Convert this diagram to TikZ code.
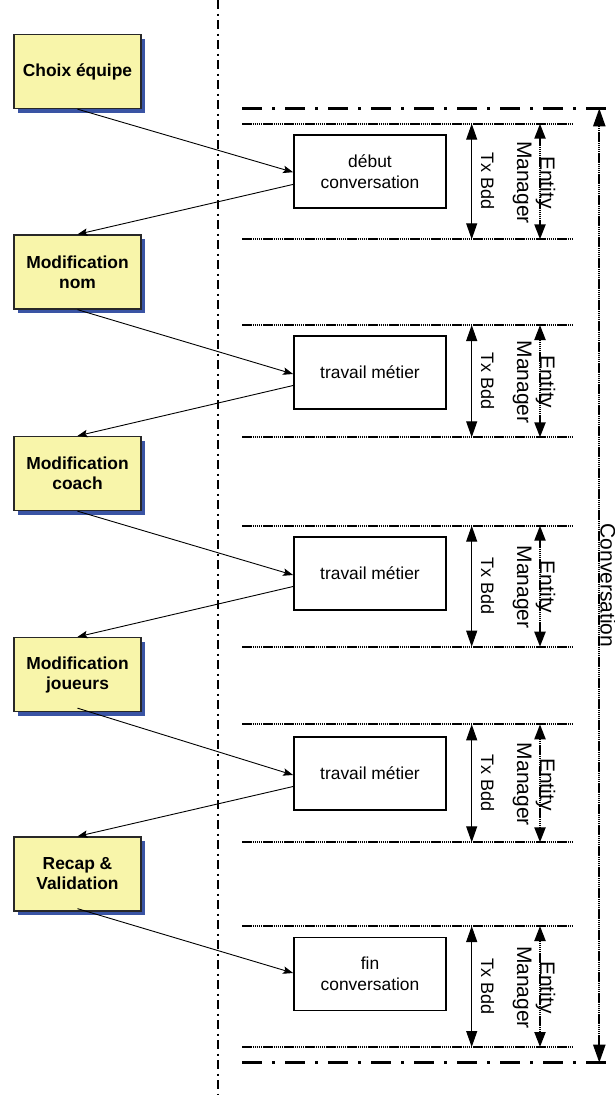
\documentclass[tikz,border=0pt]{standalone}
\usepackage{fontspec}
\setmainfont{Liberation Sans}
\usetikzlibrary{arrows.meta,shadows}
\definecolor{yfill}{RGB}{248,245,170}
\definecolor{sblue}{RGB}{58,84,164}
\definecolor{bdr}{RGB}{40,40,40}
\begin{document}
\begin{tikzpicture}[x=1pt,y=-1pt,
 ybox/.style={draw=bdr, line width=1.3pt, fill=yfill, minimum width=127pt, minimum height=74pt, align=center,
   font=\fontsize{17.4}{20}\selectfont\bfseries, general shadow={fill=sblue, shadow xshift=4.3pt, shadow yshift=-4pt}, inner sep=0pt},
 wbox/.style={draw=black, line width=1.8pt, fill=white, minimum width=152pt, minimum height=73pt, align=center,
   font=\fontsize{17.4}{21}\selectfont, inner sep=0pt},
 conn/.style={line width=0.9pt, -{Stealth[length=10pt,width=7.5pt,inset=2pt]}},
 dotline/.style={line width=2.2pt, dash pattern=on 1.5pt off 0.6pt},
 dashdotH/.style={line width=3pt, dash pattern=on 20pt off 10pt on 3pt off 10pt},
 dashdotV/.style={line width=2.5pt, dash pattern=on 9pt off 4.5pt on 2pt off 4.5pt},
 txarrow/.style={line width=1pt, {Triangle[length=16pt,width=11pt]}-{Triangle[length=16pt,width=11pt]}},
 emarrow/.style={line width=2.2pt, dash pattern=on 1.5pt off 0.6pt, {Triangle[length=15pt,width=11pt]}-{Triangle[length=15pt,width=11pt]}},
 convarrow/.style={line width=2.2pt, dash pattern=on 1.5pt off 0.6pt, {Triangle[length=18pt,width=12pt]}-{Triangle[length=18pt,width=12pt]}},
 txlabel/.style={rotate=-90, anchor=base, inner sep=0pt, font=\fontsize{18}{20}\selectfont},
 emlabel/.style={rotate=-90, align=center, inner sep=0pt, font=\fontsize{21}{23}\selectfont},
]
\useasboundingbox (0,0) rectangle (615,1095);

% vertical separator
\coordinate (vt) at (218,0);
\coordinate (vb) at (218,1095);
\draw[dashdotV] (vt) -- (vb);

% conversation limits
\coordinate (h1l) at (242,108.3);
\coordinate (h1r) at (615,108.3);
\coordinate (h2l) at (242,1062.7);
\coordinate (h2r) at (615,1062.7);
\draw[dashdotH] (h1l) -- (h1r);
\draw[dashdotH] (h2l) -- (h2r);

\coordinate (ct) at (599.3,108.3);
\coordinate (cb) at (599.3,1062.7);
\draw[convarrow] (ct) -- (cb);
\node[rotate=-90, anchor=base, inner sep=0pt, font=\fontsize{21}{23}\selectfont] (conv) at (600.5,585.5) {Conversation};

% transaction blocks
\foreach \i/\yt/\yb in {1/123.7/239.3, 2/325/437.3, 3/525.7/646.7, 4/724.3/842.3, 5/926/1047}{
  \coordinate (tl\i) at (242,\yt);
  \coordinate (tr\i) at (573,\yt);
  \coordinate (bl\i) at (242,\yb);
  \coordinate (br\i) at (573,\yb);
  \draw[dotline] (tl\i) -- (tr\i);
  \draw[dotline] (bl\i) -- (br\i);
  \coordinate (txt\i) at (471.7,\yt);
  \coordinate (txb\i) at (471.7,\yb);
  \draw[txarrow] (txt\i) -- (txb\i);
  \coordinate (emt\i) at (540,\yt);
  \coordinate (emb\i) at (540,\yb);
  \draw[emarrow] (emt\i) -- (emb\i);
  \node[txlabel] (tx\i) at (481,{(\yt+\yb)/2}) {Tx Bdd};
  \node[emlabel] (em\i) at (534,{(\yt+\yb)/2+1}) {Entity\\Manager};
}

% left steps
\node[ybox] (y1) at (77.5,71.5) {Choix équipe};
\node[ybox] (y2) at (77.5,272) {Modification\\nom};
\node[ybox] (y3) at (77.5,473.5) {Modification\\coach};
\node[ybox] (y4) at (77.5,674.5) {Modification\\joueurs};
\node[ybox] (y5) at (77.5,874) {Recap \&\\Validation};

% right boxes
\node[wbox] (w1) at (370,171.7) {début\\conversation};
\node[wbox] (w2) at (370,372.5) {travail métier};
\node[wbox] (w3) at (370,573.5) {travail métier};
\node[wbox] (w4) at (370,773.5) {travail métier};
\node[wbox] (w5) at (370,974) {fin\\conversation};

% connectors
\draw[conn] (y1.south) -- ([yshift=-0.5pt]w1.west);
\draw[conn] ([yshift=-12.7pt]w1.west) -- (y2.north);
\draw[conn] (y2.south) -- ([yshift=-1.5pt]w2.west);
\draw[conn] ([yshift=-13pt]w2.west) -- (y3.north);
\draw[conn] (y3.south) -- ([yshift=-1.5pt]w3.west);
\draw[conn] ([yshift=-13pt]w3.west) -- (y4.north);
\draw[conn] ([yshift=4pt]y4.south) -- ([yshift=-1.5pt]w4.west);
\draw[conn] ([yshift=-13pt]w4.west) -- (y5.north);
\draw[conn] ([yshift=3pt]y5.south) -- ([yshift=1pt]w5.west);
\end{tikzpicture}
\end{document}
